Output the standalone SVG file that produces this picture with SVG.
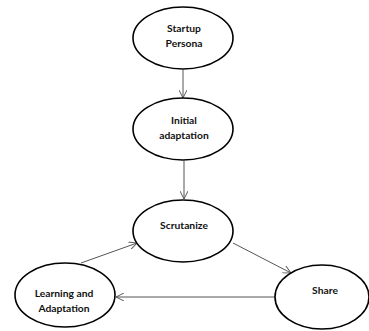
<svg xmlns="http://www.w3.org/2000/svg" width="369" height="331" viewBox="0 0 369 331">
  <defs>
    <style>
      .node ellipse { fill: #ffffff; stroke: #000000; stroke-width: 1.6; }
      .node text { font-family: Lato, "Open Sans", "Liberation Sans", sans-serif; font-weight: bold; font-size: 10.3px; fill: #111111; text-anchor: middle; }
      .edge { stroke: #555555; stroke-width: 1; fill: none; marker-end: url(#arrow); }
    </style>
    <marker id="arrow" viewBox="0 0 10 10" refX="10" refY="5" markerWidth="8" markerHeight="8" markerUnits="userSpaceOnUse" orient="auto">
      <path d="M0,0 L10,5 L0,10" fill="none" stroke="#555555" stroke-width="1.2"/>
    </marker>
  </defs>
  <rect width="369" height="331" fill="#ffffff"/>

  <!-- directed links between the stages -->
  <g id="connectors">
    <line class="edge" x1="183" y1="70" x2="183" y2="98"/>
    <line class="edge" x1="184" y1="161" x2="184" y2="199"/>
    <line class="edge" x1="233" y1="243" x2="291" y2="273"/>
    <line class="edge" x1="275" y1="297" x2="116" y2="297"/>
    <line class="edge" x1="81" y1="263" x2="137" y2="243"/>
  </g>

  <g id="startup-persona" class="node">
    <ellipse cx="183" cy="38" rx="50" ry="31"/>
    <text x="184" y="32">Startup</text>
    <text x="184" y="47">Persona</text>
  </g>

  <g id="initial-adaptation" class="node">
    <ellipse cx="183" cy="129" rx="50" ry="31"/>
    <text x="184" y="124">Initial</text>
    <text x="184" y="139">adaptation</text>
  </g>

  <g id="scrutanize" class="node">
    <ellipse cx="183" cy="231" rx="50" ry="31"/>
    <text x="184" y="229">Scrutanize</text>
  </g>

  <g id="learning-adaptation" class="node">
    <ellipse cx="65" cy="295" rx="50" ry="32"/>
    <text x="64" y="297">Learning and</text>
    <text x="64" y="312">Adaptation</text>
  </g>

  <g id="share" class="node">
    <ellipse cx="322" cy="297" rx="47" ry="32"/>
    <text x="325" y="294">Share</text>
  </g>
</svg>
